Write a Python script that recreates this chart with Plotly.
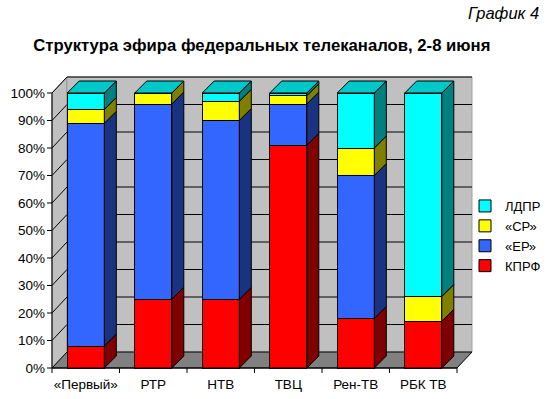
import plotly.graph_objects as go

# ---- data ----
channels = ["«Первый»", "РТР", "НТВ", "ТВЦ", "Рен-ТВ", "РБК ТВ"]
series_names = ["КПРФ", "«ЕР»", "«СР»", "ЛДПР"]
kprf = [8, 25, 25, 81, 18, 17]
er = [81, 71, 65, 15, 52, 0]
sr = [5, 4, 7, 3, 10, 9]
ldpr = [6, 0, 3, 1, 20, 74]
y_ticks = [0, 10, 20, 30, 40, 50, 60, 70, 80, 90, 100]

series_values = [kprf, er, sr, ldpr]
front_colors = ["#FF0000", "#3366FF", "#FFFF00", "#00FFFF"]
side_colors = ["#800000", "#1A3380", "#808000", "#008080"]
top_color = "#00C8C8"

FONT = "Arial, Liberation Sans, sans-serif"

# ---- geometry (pixels -> data units) ----
PX = 67.5   # px per category unit
PY = 2.75   # px per percent
BAR_W = 0.55
DXB, DYB = 12 / PX, 12 / PY        # bar depth
DXW, DYW = 15 / PX, 16 / PY        # wall depth
X0, X1 = -0.5, len(channels) - 0.5
TICK_X = 5 / PX
TICK_Y = 5 / PY

L, T = 46, 76
xr = [X0 - 6 / PX, X1 + DXW + 1 / PX]
yr = [-6 / PY, 100 + DYW + 1 / PY]
PW = (xr[1] - xr[0]) * PX
PH = (yr[1] - yr[0]) * PY
R = 550 - L - PW
B = 399 - T - PH

fig = go.Figure()

# front faces (stacked bars)
for name, vals, col in zip(series_names, series_values, front_colors):
    fig.add_trace(go.Bar(
        x=list(range(len(channels))), y=vals, name=name, width=BAR_W,
        marker=dict(color=col, line=dict(color="black", width=1)),
        hoverinfo="skip",
    ))

# side faces
cum = [0] * len(channels)
for s, (vals, scol) in enumerate(zip(series_values, side_colors)):
    xs, ys = [], []
    for i, v in enumerate(vals):
        y0, y1 = cum[i], cum[i] + v
        if v > 0:
            xrgt = i + BAR_W / 2
            xs += [xrgt, xrgt + DXB, xrgt + DXB, xrgt, xrgt, None]
            ys += [y0, y0 + DYB, y1 + DYB, y1, y0, None]
        cum[i] = y1
    fig.add_trace(go.Scatter(x=xs, y=ys, mode="lines", fill="toself",
                             fillcolor=scol, line=dict(color="black", width=1),
                             showlegend=False, hoverinfo="skip"))

# top faces
xs, ys = [], []
for i, tot in enumerate(cum):
    xl, xrgt = i - BAR_W / 2, i + BAR_W / 2
    xs += [xl, xrgt, xrgt + DXB, xl + DXB, xl, None]
    ys += [tot, tot, tot + DYB, tot + DYB, tot, None]
fig.add_trace(go.Scatter(x=xs, y=ys, mode="lines", fill="toself",
                         fillcolor=top_color, line=dict(color="black", width=1),
                         showlegend=False, hoverinfo="skip"))

# axis lines and tick marks
ax_x = [X0, X0, None, X0, X1, None]
ax_y = [0, 100, None, 0, 0, None]
for t in y_ticks:
    ax_x += [X0 - TICK_X, X0, None]
    ax_y += [t, t, None]
for k in range(len(channels) + 1):
    ax_x += [X0 + k, X0 + k, None]
    ax_y += [0, -TICK_Y, None]
fig.add_trace(go.Scatter(x=ax_x, y=ax_y, mode="lines",
                         line=dict(color="black", width=1),
                         showlegend=False, hoverinfo="skip"))

# walls, floor, gridlines
shapes = []
shapes.append(dict(type="path", layer="below", xref="x", yref="y",
                   path=f"M{X0},0 L{X0 + DXW},{DYW} L{X0 + DXW},{100 + DYW} L{X0},100 Z",
                   fillcolor="#C0C0C0", line=dict(color="#808080", width=1)))
shapes.append(dict(type="rect", layer="below", xref="x", yref="y",
                   x0=X0 + DXW, x1=X1 + DXW, y0=DYW, y1=100 + DYW,
                   fillcolor="#C0C0C0", line=dict(color="#A0A0A0", width=1)))
shapes.append(dict(type="path", layer="below", xref="x", yref="y",
                   path=f"M{X0},0 L{X1},0 L{X1 + DXW},{DYW} L{X0 + DXW},{DYW} Z",
                   fillcolor="#808080", line=dict(color="black", width=1)))
for t in y_ticks[1:]:
    shapes.append(dict(type="line", layer="below", xref="x", yref="y",
                       x0=X0 + DXW, x1=X1 + DXW, y0=t + DYW, y1=t + DYW,
                       line=dict(color="black", width=1)))
    shapes.append(dict(type="line", layer="below", xref="x", yref="y",
                       x0=X0, x1=X0 + DXW, y0=t, y1=t + DYW,
                       line=dict(color="black", width=1)))

fig.update_layout(
    template="none",
    width=550, height=399,
    margin=dict(l=L, r=R, t=T, b=B, pad=0, autoexpand=False),
    barmode="stack",
    paper_bgcolor="white", plot_bgcolor="white",
    font=dict(family=FONT, size=13, color="black"),
    shapes=shapes,
    title=dict(text="<b>Структура эфира федеральных телеканалов, 2-8 июня</b>",
               x=0.476, xref="container", xanchor="center",
               y=1 - 45 / 399, yref="container", yanchor="middle",
               font=dict(family=FONT, size=16.7, color="black")),
    xaxis=dict(range=xr, tickvals=list(range(len(channels))), ticktext=channels,
               showgrid=False, zeroline=False, showline=False, ticks="",
               automargin=False, tickfont=dict(size=13.5)),
    yaxis=dict(range=yr, tickvals=y_ticks, ticktext=[f"{t}%" for t in y_ticks],
               showgrid=False, zeroline=False, showline=False, ticks="",
               automargin=False, tickfont=dict(size=13.5)),
    legend=dict(x=(465 - L) / PW, xanchor="left",
                y=(399 - B - 236) / PH, yanchor="middle",
                traceorder="reversed", bgcolor="rgba(0,0,0,0)",
                font=dict(size=13), tracegroupgap=0, borderwidth=0),
    showlegend=True,
    annotations=[dict(text="<i>График 4</i>", xref="paper", yref="paper",
                      x=(541 - L) / PW, y=(399 - B - 13) / PH,
                      xanchor="right", yanchor="middle", showarrow=False,
                      font=dict(family=FONT, size=16.5, color="black"))],
)

fig.write_html("out.html",
               config={"displayModeBar": False, "staticPlot": True},
               post_script="document.body.style.margin='0';"
                           "document.body.style.overflow='hidden';")
